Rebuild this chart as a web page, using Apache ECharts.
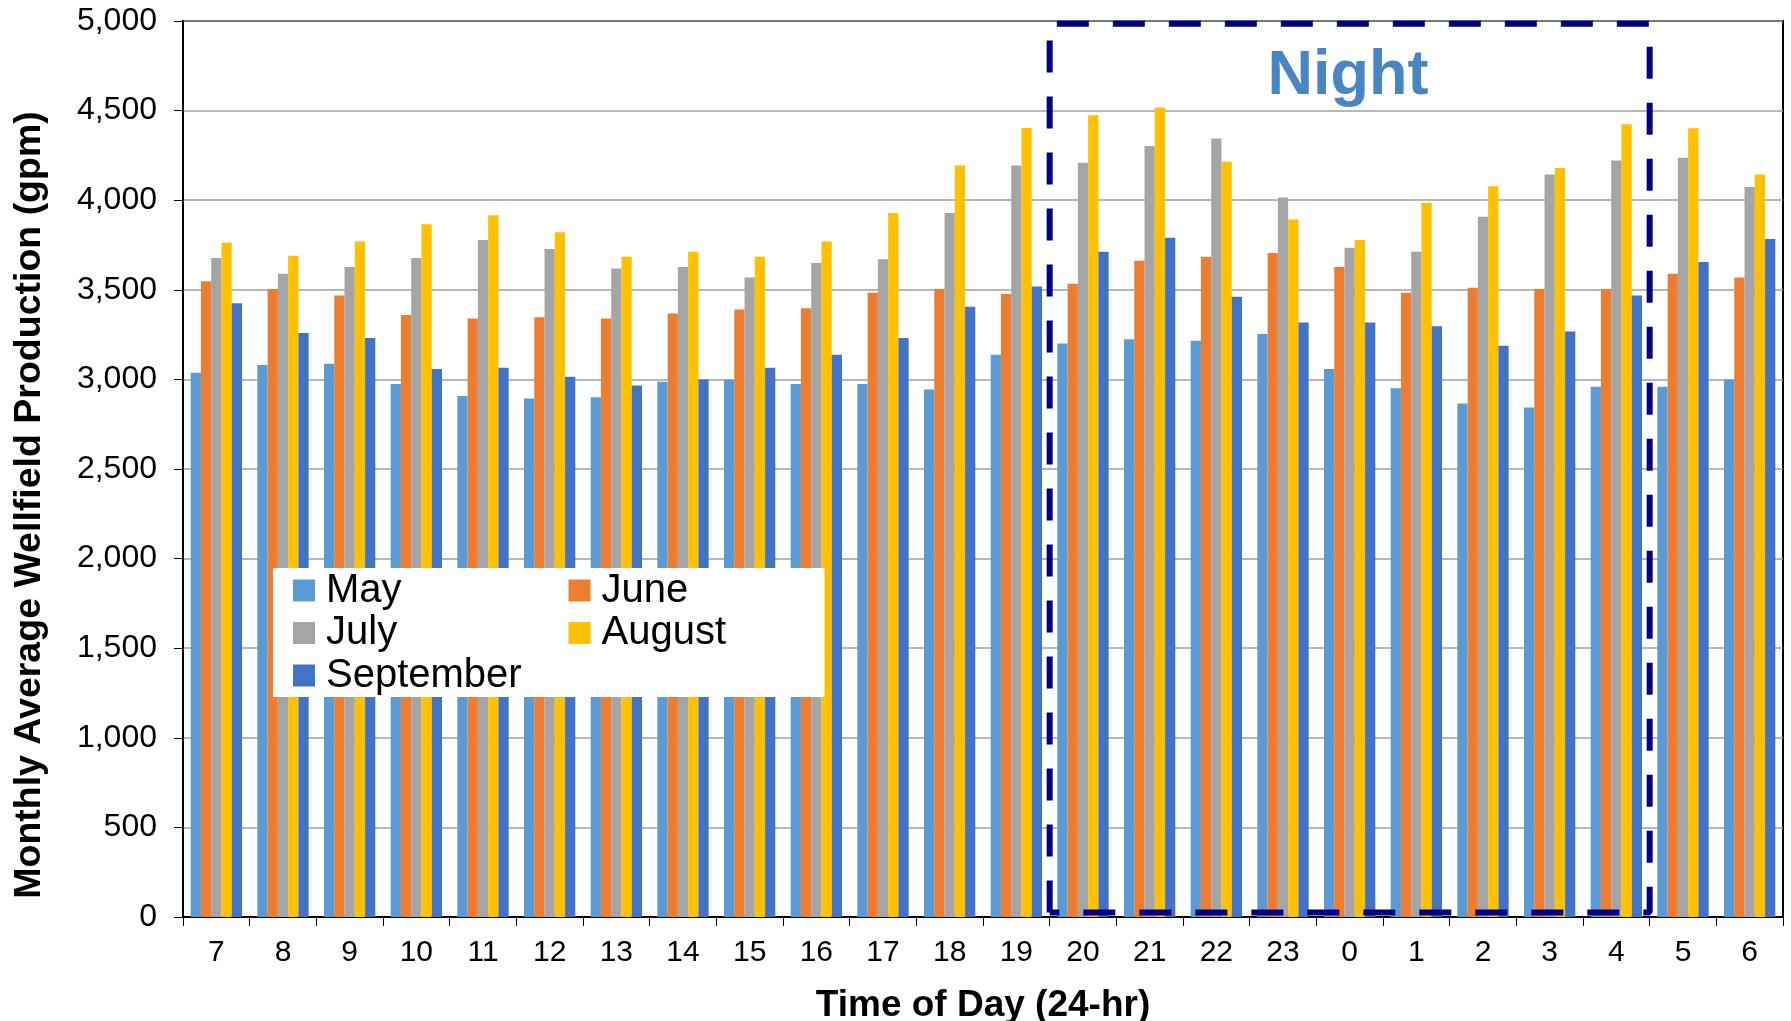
<!DOCTYPE html>
<html>
<head>
<meta charset="utf-8">
<script src="https://cdn.jsdelivr.net/npm/echarts@6/dist/echarts.min.js"></script>
<style>
html,body{margin:0;padding:0;background:#fff;}
#chart{width:1791px;height:1021px;}
</style>
</head>
<body>
<div id="chart"></div>
<script>
const hours = ['7','8','9','10','11','12','13','14','15','16','17','18','19','20','21','22','23','0','1','2','3','4','5','6'];
const seriesNames = ['May','June','July','August','September'];
const may = [3037,3080,3088,2974,2907,2894,2901,2987,3000,2974,2974,2944,3138,3201,3224,3216,3254,3058,2951,2866,2843,2959,2959,3000];
const june = [3548,3504,3468,3360,3340,3347,3340,3368,3390,3397,3483,3504,3476,3534,3662,3685,3705,3627,3483,3511,3504,3504,3590,3569];
const july = [3677,3590,3627,3677,3778,3728,3619,3627,3569,3649,3670,3929,4194,4209,4302,4345,4015,3735,3713,3907,4144,4222,4237,4073];
const august = [3763,3690,3770,3866,3916,3821,3685,3713,3685,3770,3929,4194,4403,4474,4517,4215,3892,3778,3985,4078,4179,4424,4401,4144];
const september = [3425,3259,3231,3058,3065,3015,2966,3000,3065,3138,3231,3405,3519,3713,3791,3461,3317,3317,3297,3188,3267,3468,3655,3784];
const nightFirstHour = '20';
const nightLastHour = '4';
const yMin = 0, yMax = 5000, yStep = 500;

const colors = ['#5B9BD5','#ED7D31','#A5A5A5','#FFC000','#4472C4'];
const values = [may, june, july, august, september];
const FONT = '"Liberation Sans", Arial, sans-serif';

// night box in category-index space (each category spans [i, i+1])
const nx0 = hours.indexOf(nightFirstHour);
const nx1 = hours.indexOf(nightLastHour) + 1;
const yLo = yMin + 25, yHi = yMax - 15;
const nightBox = [[nx0, yLo],[nx0, yHi],[nx1, yHi],[nx1, yLo],[nx0, yLo]];

const chart = echarts.init(document.getElementById('chart'), null, {renderer:'canvas'});

const barSeries = seriesNames.map((n, i) => ({
  name: n,
  type: 'bar',
  data: values[i],
  barGap: '0%',
  barCategoryGap: '23%',
  itemStyle: {color: colors[i]},
  z: 2
}));

// legend laid out in two columns: left-column items get a wider text box
const legendData = seriesNames.map((n, i) => ({
  name: n,
  textStyle: {width: (i % 2 === 0) ? 241 : 223}
}));

chart.setOption({
  animation: false,
  backgroundColor: '#fff',
  title: {
    text: 'Night',
    left: 1343,
    top: 40,
    textAlign: 'center',
    textStyle: {color: '#4785C3', fontSize: 63, fontWeight: 'bold', fontFamily: FONT}
  },
  legend: {
    data: legendData,
    left: 273,
    top: 568,
    width: 560,
    padding: [2, 0, 1, 20],
    itemGap: 1.5,
    itemWidth: 22,
    itemHeight: 22,
    icon: 'rect',
    backgroundColor: '#fff',
    textStyle: {
      fontSize: 40, color: '#000', fontFamily: FONT,
      width: 232, lineHeight: 41, padding: [0, 0, 0, 6], overflow: 'none'
    },
    z: 10
  },
  grid: {
    left: 183, right: 8, top: 21, bottom: 104,
    outerBoundsMode: 'none',
    containLabel: false,
    show: true, borderColor: '#000', borderWidth: 2, backgroundColor: 'transparent'
  },
  xAxis: [{
    type: 'category',
    data: hours,
    name: 'Time of Day (24-hr)',
    nameLocation: 'middle',
    nameGap: 70,
    nameTextStyle: {fontSize: 37, fontWeight: 'bold', color: '#000', fontFamily: FONT},
    axisLine: {lineStyle: {color: '#000', width: 2}},
    axisTick: {show: true, interval: 0, length: 9, lineStyle: {color: '#000', width: 1}},
    axisLabel: {interval: 0, fontSize: 30, color: '#000', margin: 21, fontFamily: FONT},
    splitLine: {show: false}
  },{
    type: 'value', min: 0, max: hours.length, show: false
  }],
  yAxis: {
    type: 'value',
    min: yMin, max: yMax, interval: yStep,
    name: 'Monthly Average Wellfield Production (gpm)',
    nameLocation: 'middle',
    nameGap: 134,
    nameTextStyle: {fontSize: 37.5, fontWeight: 'bold', color: '#000', fontFamily: FONT, padding: [0, 72, 0, 0]},
    axisLine: {show: true, lineStyle: {color: '#000', width: 2}},
    axisTick: {show: true, length: 9, lineStyle: {color: '#000', width: 1}},
    axisLabel: {fontSize: 32, color: '#000', margin: 26, fontFamily: FONT,
      formatter: v => v.toLocaleString('en-US')},
    splitLine: {show: true, lineStyle: {color: '#A0A0A0', width: 1.5}}
  },
  series: barSeries.concat([{
    name: 'nightBox',
    type: 'line',
    xAxisIndex: 1,
    yAxisIndex: 0,
    data: nightBox,
    symbol: 'none',
    clip: false,
    silent: true,
    z: 5,
    lineStyle: {color: '#000080', width: 6, type: [32, 24]}
  }])
});
</script>
</body>
</html>
